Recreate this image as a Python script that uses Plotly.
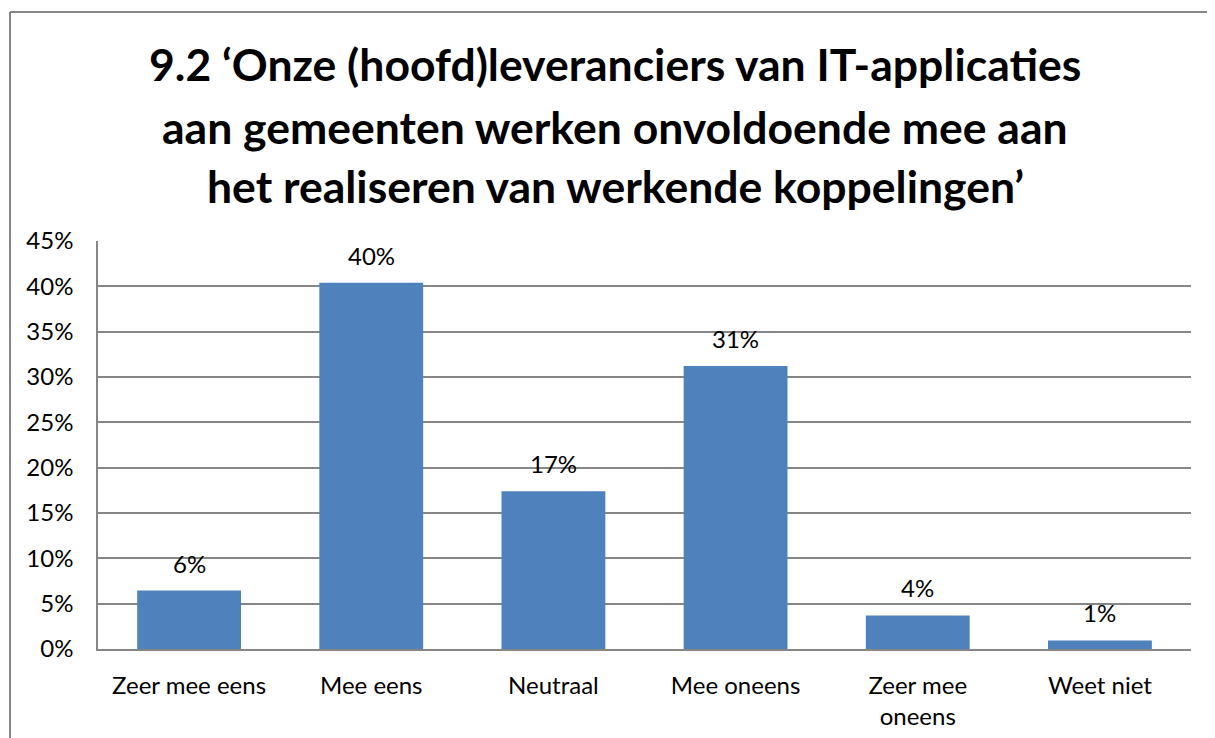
import plotly.graph_objects as go

categories = ["Zeer mee eens", "Mee eens", "Neutraal", "Mee oneens", "Zeer mee<br>oneens", "Weet niet"]
values = [6.45, 40.4, 17.4, 31.2, 3.7, 0.95]
value_labels = ["6%", "40%", "17%", "31%", "4%", "1%"]
tick_vals = [0, 5, 10, 15, 20, 25, 30, 35, 40, 45]
tick_text = ["0%", "5%", "10%", "15%", "20%", "25%", "30%", "35%", "40%", "45%"]
title_lines = [
    "9.2 \u2018Onze (hoofd)leveranciers van IT-applicaties",
    "aan gemeenten werken onvoldoende mee aan",
    "het realiseren van werkende koppelingen\u2019",
]

OFF = 8  # default page body margin
W, H = 1215 - OFF, 738 - OFF
L = 98 - OFF
T = 241 - OFF
R = W - (1191 - OFF)
B = H - (649 - OFF)
FONT = "Lato"
GRID = "#868686"
pw = W - L - R
ph = H - T - B


def px(xp):
    return (xp - OFF - L) / pw


def py(yp):
    return 1 + (T - (yp - OFF)) / ph


fig = go.Figure()
fig.add_trace(go.Bar(
    x=categories, y=values,
    marker=dict(color="#4F81BD", line=dict(width=0)),
    hoverinfo="skip",
))

annotations = []
for c, v, t in zip(categories, values, value_labels):
    annotations.append(dict(x=c, y=v, text=t, showarrow=False, yanchor="bottom",
                            yshift=11, font=dict(family=FONT, size=24, color="#000000")))

title_y = [63, 126, 185]
for line, yp in zip(title_lines, title_y):
    annotations.append(dict(xref="paper", yref="paper", x=px(615),
                            y=py(yp), text="<b>" + line + "</b>",
                            showarrow=False, xanchor="center", yanchor="middle",
                            font=dict(family=FONT, size=44.5, color="#000000")))

shapes = [
    dict(type="line", xref="paper", yref="paper",
         x0=px(10), x1=px(10), y0=py(12), y1=py(760),
         line=dict(color=GRID, width=2)),
    dict(type="line", xref="paper", yref="paper",
         x0=px(10), x1=px(1240), y0=py(12), y1=py(12),
         line=dict(color=GRID, width=2)),
]

fig.update_layout(
    width=W, height=H,
    margin=dict(l=L, r=R, t=T, b=B, pad=0, autoexpand=False),
    paper_bgcolor="white", plot_bgcolor="white",
    showlegend=False,
    bargap=0.43,
    annotations=annotations,
    shapes=shapes,
    font=dict(family=FONT, size=24, color="#000000"),
)
fig.update_yaxes(range=[0, 45], tickvals=tick_vals, ticktext=tick_text,
                 showgrid=True, gridcolor=GRID, gridwidth=1.5,
                 showline=True, linecolor=GRID, linewidth=1.5,
                 ticks="", ticklabelstandoff=18, zeroline=False, automargin=False,
                 tickfont=dict(family=FONT, size=24, color="#000000"))
fig.update_xaxes(showline=True, linecolor=GRID, linewidth=1.5, ticks="",
                 ticklabelstandoff=14, automargin=False,
                 tickfont=dict(family=FONT, size=24, color="#000000"))

fig.write_html("out.html")
